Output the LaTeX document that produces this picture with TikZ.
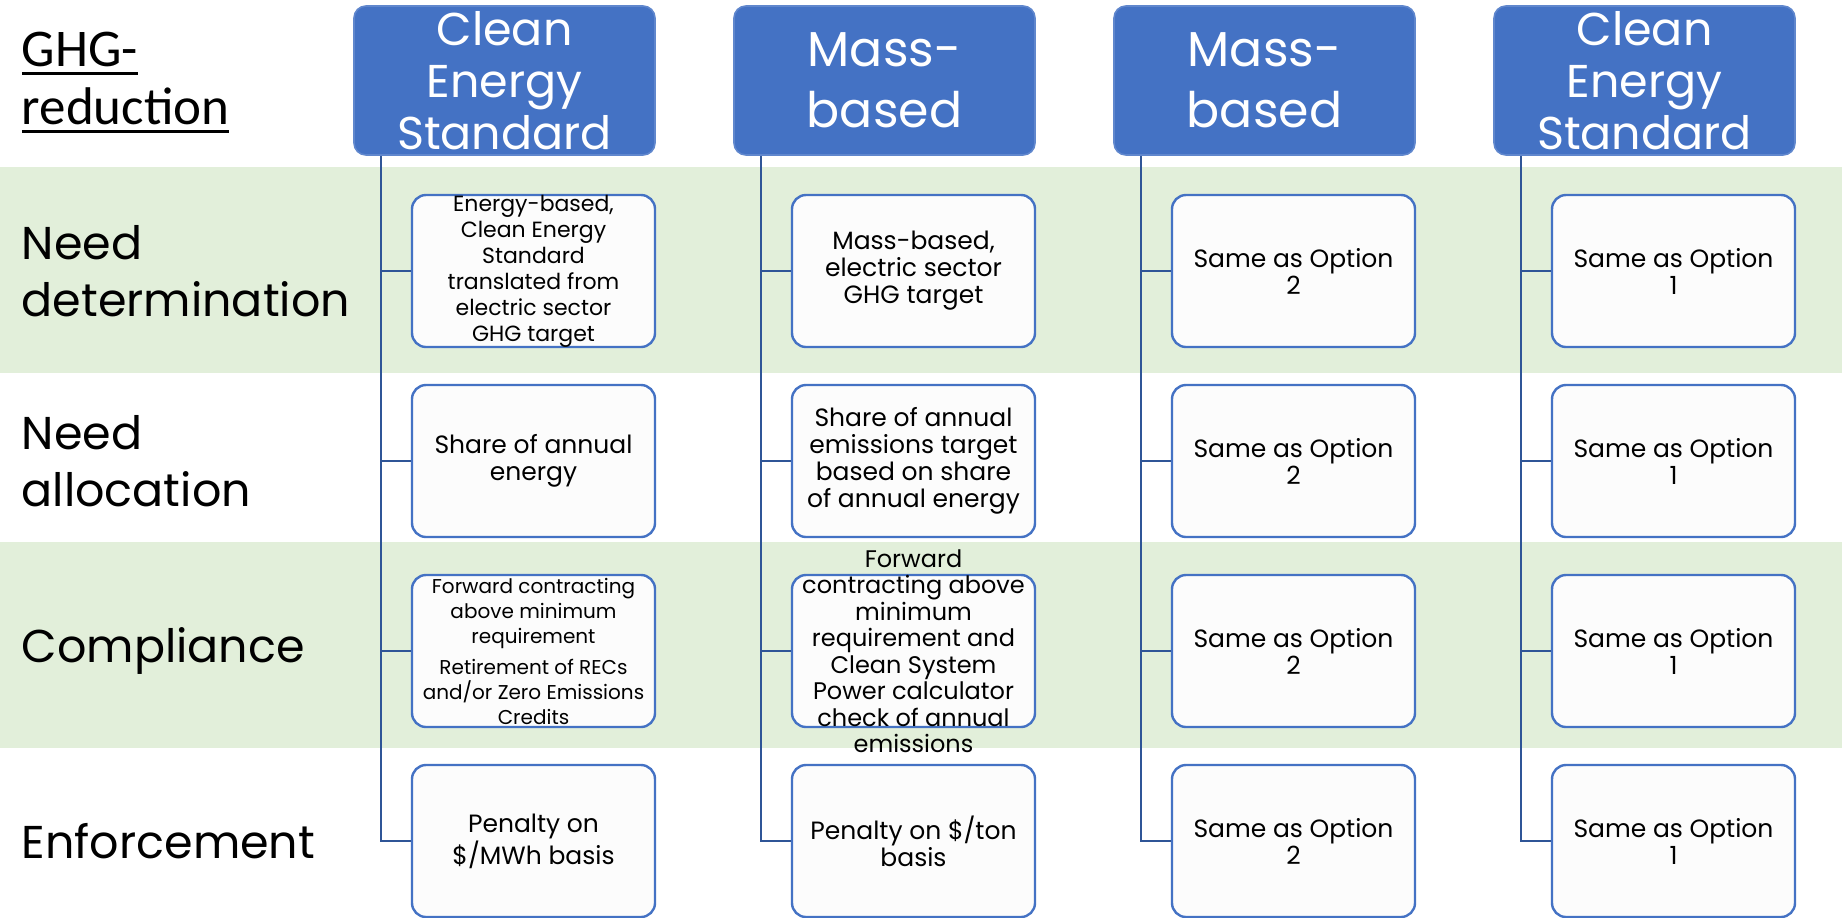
\documentclass[tikz,border=0pt]{standalone}
\usepackage{fontspec}
\setmainfont{Poppins}
\newfontfamily\calibrifont{Carlito}
\usetikzlibrary{positioning}

\definecolor{hdrblue}{RGB}{68,114,196}
\definecolor{trunkblue}{RGB}{47,85,151}
\definecolor{bandgreen}{RGB}{226,239,218}

% underline one word with a rule of fixed depth
\newcommand{\ulword}[1]{\setbox0\hbox{#1}\rlap{\rule[-4.5pt]{\wd0}{1.5pt}}\box0}

\begin{document}
\begin{tikzpicture}[x=0.5pt,y=-0.5pt,node distance=190pt,thick]
\tikzstyle{hdr}=[rectangle,draw=hdrblue!85!white,fill=hdrblue,rounded corners=6pt,align=center,minimum width=150.5pt,minimum height=74.5pt,inner sep=0pt,text=white,font=\fontsize{24.5}{30.5}\selectfont]
\tikzstyle{opt}=[rectangle,draw=hdrblue,fill=white!98!gray,line width=1.2pt,rounded corners=7pt,align=center,minimum width=121.5pt,minimum height=76pt,inner sep=0pt,font=\fontsize{12.5}{13.5}\selectfont]
\tikzstyle{opttext}=[align=center,inner sep=0pt]
\tikzstyle{rowlbl}=[anchor=west,align=left,inner sep=0pt,font=\fontsize{23}{28.5}\selectfont]
\tikzstyle{trunk}=[draw=trunkblue,line width=1.2pt]

\useasboundingbox (0,0) rectangle (1842,917);
\fill[white] (0,0) rectangle (1842,917);
\fill[bandgreen] (0,167) rectangle (1842,373);
\fill[bandgreen] (0,542) rectangle (1842,748);

% row labels
\node[rowlbl, font=\calibrifont\fontsize{26.5}{29}\selectfont] (ghg) at (21,82.5) {\ulword{GHG-}\\\ulword{reduction}};
\node[rowlbl] (need) at (21,271) {Need\\determination};
\node[rowlbl] (alloc) at (21,461) {Need\\allocation};
\node[rowlbl] (compl) at (21,651) {Compliance};
\node[rowlbl] (enf) at (21,841) {Enforcement};

% option headers
\node[hdr, font=\fontsize{23}{26}\selectfont] (hdr1) at (504.5,80.5) {Clean\\Energy\\Standard};
\node[hdr, right of=hdr1] (hdr2) {Mass-\\based};
\node[hdr, right of=hdr2] (hdr3) {Mass-\\based};
\node[hdr, right of=hdr3, font=\fontsize{23}{26}\selectfont] (hdr4) {Clean\\Energy\\Standard};

% option 1
\node[opt] (c1a) at (533.5,271) {};
\node[opttext, font=\fontsize{11}{13}\selectfont] (c1atext) at (c1a) {Energy-based,\\Clean Energy\\Standard\\translated from\\electric sector\\GHG target};
\node[opt, below of=c1a, node distance=95pt] (c1b) {Share of annual\\energy};
\node[opt, below of=c1b, node distance=95pt, font=\fontsize{10}{12.5}\selectfont] (c1c) {Forward contracting\\above minimum\\requirement\\[3pt]Retirement of RECs\\and/or Zero Emissions\\Credits};
\node[opt, below of=c1c, node distance=95pt] (c1d) {Penalty on\\\$/MWh basis};

% option 2
\node[opt, right of=c1a] (c2a) {Mass-based,\\electric sector\\GHG target};
\node[opt, right of=c1b] (c2b) {Share of annual\\emissions target\\based on share\\of annual energy};
\node[opt, right of=c1c] (c2c) {};
\node[opttext, font=\fontsize{12}{13.25}\selectfont] (c2ctext) at (c2c) {Forward\\contracting above\\minimum\\requirement and\\Clean System\\Power calculator\\check of annual\\emissions};
\node[opt, right of=c1d] (c2d) {Penalty on \$/ton\\basis};

% option 3
\node[opt, right of=c2a] (c3a) {Same as Option\\2};
\node[opt, right of=c2b] (c3b) {Same as Option\\2};
\node[opt, right of=c2c] (c3c) {Same as Option\\2};
\node[opt, right of=c2d] (c3d) {Same as Option\\2};

% option 4
\node[opt, right of=c3a] (c4a) {Same as Option\\1};
\node[opt, right of=c3b] (c4b) {Same as Option\\1};
\node[opt, right of=c3c] (c4c) {Same as Option\\1};
\node[opt, right of=c3d] (c4d) {Same as Option\\1};

% trunks
\coordinate (t1) at ([xshift=14pt]hdr1.south west);
\coordinate (t2) at ([xshift=14pt]hdr2.south west);
\coordinate (t3) at ([xshift=14pt]hdr3.south west);
\coordinate (t4) at ([xshift=14pt]hdr4.south west);
\draw[trunk] (t1) |- (c1d.west);
\draw[trunk] (t1 |- c1a.west) -- (c1a.west);
\draw[trunk] (t1 |- c1b.west) -- (c1b.west);
\draw[trunk] (t1 |- c1c.west) -- (c1c.west);
\draw[trunk] (t2) |- (c2d.west);
\draw[trunk] (t2 |- c2a.west) -- (c2a.west);
\draw[trunk] (t2 |- c2b.west) -- (c2b.west);
\draw[trunk] (t2 |- c2c.west) -- (c2c.west);
\draw[trunk] (t3) |- (c3d.west);
\draw[trunk] (t3 |- c3a.west) -- (c3a.west);
\draw[trunk] (t3 |- c3b.west) -- (c3b.west);
\draw[trunk] (t3 |- c3c.west) -- (c3c.west);
\draw[trunk] (t4) |- (c4d.west);
\draw[trunk] (t4 |- c4a.west) -- (c4a.west);
\draw[trunk] (t4 |- c4b.west) -- (c4b.west);
\draw[trunk] (t4 |- c4c.west) -- (c4c.west);
\end{tikzpicture}
\end{document}
